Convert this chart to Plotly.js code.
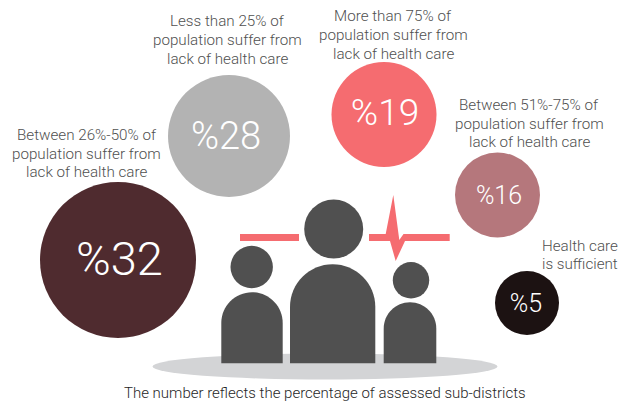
<!DOCTYPE html>
<html>
<head>
<meta charset="utf-8">
<script src="https://cdn.plot.ly/plotly-3.0.1.min.js"></script>
<style>html,body{margin:0;padding:0;background:#fff}#chart{width:621px;height:403px}</style>
</head>
<body>
<div id="chart"></div>
<script>
// Share of assessed sub-districts in each health-care deprivation band
const bandCaptions = [
  ["Between 26%-50% of", "population suffer from", "lack of health care"],
  ["Less than 25% of", "population suffer from", "lack of health care"],
  ["More than 75% of", "population suffer from", "lack of health care"],
  ["Between 51%-75% of", "population suffer from", "lack of health care"],
  ["Health care", "is sufficient"]
];
const bandShares = [32, 28, 19, 16, 5];

// Bubble placement on the canvas-sized axes
const bubbleX = [118, 229, 384, 497.5, 527];
const bubbleY = [260, 136, 114.5, 195, 303];
const bubbleDiameter = [156, 122, 105, 85, 64];
const bubbleColors = ["#4f2b2f", "#b3b3b3", "#f56c70", "#b5777c", "#1c1212"];
const numberX = [119.5, 226, 385, 499, 526];
const numberY = [263.5, 139.5, 116, 198, 305.5];
const numberSizes = [47, 38, 37, 25, 25];

const captionX = [86.5, 227, 393, 529, 580];
const captionY = [153.5, 40, 35, 123.5, 255];
const captionLeading = 18.6;

const footnote = "The number reflects the percentage of assessed sub-districts";

const FONT = "Roboto, 'Open Sans', sans-serif";
const PERSON = "#505050";
const PULSE = "#f56c70";

function circle(cx, cy, r, color) {
  return {type: "circle", xref: "x", yref: "y", x0: cx - r, x1: cx + r, y0: cy - r, y1: cy + r,
          fillcolor: color, line: {width: 0}, layer: "below"};
}
function ellipse(cx, cy, rx, ry, color) {
  return {type: "circle", xref: "x", yref: "y", x0: cx - rx, x1: cx + rx, y0: cy - ry, y1: cy + ry,
          fillcolor: color, line: {width: 0}, layer: "below"};
}
// Rounded-top body: dome over straight sides down to a flat base
function body(x0, x1, top, bottom, color) {
  const r = (x1 - x0) / 2;
  const spring = top + r;
  return {type: "path", xref: "x", yref: "y",
          path: `M${x0},${bottom} L${x0},${spring} C${x0},${spring - r * 0.55} ${x0 + r * 0.45},${top} ${x0 + r},${top} ` +
                `C${x1 - r * 0.45},${top} ${x1},${spring - r * 0.55} ${x1},${spring} L${x1},${bottom} Z`,
          fillcolor: color, line: {width: 0}, layer: "below"};
}
function poly(points, color) {
  const d = points.map((p, i) => (i ? "L" : "M") + p[0] + "," + p[1]).join(" ") + " Z";
  return {type: "path", xref: "x", yref: "y", path: d, fillcolor: color, line: {width: 0}, layer: "below"};
}

const shapes = [
  ellipse(325, 366.5, 172.5, 13, "#d3d4d6"),
  circle(251.7, 267, 21.2, PERSON),
  body(221.3, 282.7, 292.3, 363.3, PERSON),
  circle(333.7, 229, 29.5, PERSON),
  body(290, 375.3, 264.3, 363.3, PERSON),
  circle(411, 280.3, 18.2, PERSON),
  body(383.7, 436.3, 302.3, 363.3, PERSON),
  // Heartbeat trace running behind the adult's head
  poly([[240, 234], [299, 234], [299, 241], [240, 241]], PULSE),
  poly([[369, 234], [385.7, 234], [393.3, 195], [399.3, 240], [403.5, 234], [449.7, 234],
        [449.7, 241], [405, 241], [395.7, 261], [390, 241], [369, 241]], PULSE)
];

const bubbles = {
  type: "scatter",
  mode: "markers",
  x: bubbleX,
  y: bubbleY,
  marker: {size: bubbleDiameter, sizemode: "diameter", color: bubbleColors, opacity: 1, line: {width: 0}},
  hoverinfo: "skip"
};

const numbers = {
  type: "scatter",
  mode: "text",
  x: numberX,
  y: numberY,
  text: bandShares.map(v => "%" + v),
  textposition: "middle center",
  textfont: {family: FONT, weight: 300, color: "#ffffff", size: numberSizes},
  hoverinfo: "skip"
};

const annotations = [];
bandCaptions.forEach((lines, i) => {
  lines.forEach((line, j) => {
    annotations.push({
      xref: "x", yref: "y", x: captionX[i],
      y: captionY[i] + (j - (lines.length - 1) / 2) * captionLeading,
      text: line, showarrow: false, xanchor: "center", yanchor: "middle",
      font: {family: FONT, weight: 300, size: 15.2, color: "#505050"}
    });
  });
});
annotations.push({
  xref: "x", yref: "y", x: 325, y: 393, text: footnote, showarrow: false,
  xanchor: "center", yanchor: "middle",
  font: {family: FONT, weight: 300, size: 15, color: "#262626"}
});

const layout = {
  width: 621,
  height: 403,
  margin: {l: 0, r: 0, t: 0, b: 0},
  paper_bgcolor: "#ffffff",
  plot_bgcolor: "#ffffff",
  showlegend: false,
  xaxis: {range: [0, 621], visible: false, fixedrange: true},
  yaxis: {range: [403, 0], visible: false, fixedrange: true},
  shapes,
  annotations
};

Plotly.newPlot("chart", [bubbles, numbers], layout, {displayModeBar: false, staticPlot: true});
</script>
</body>
</html>
